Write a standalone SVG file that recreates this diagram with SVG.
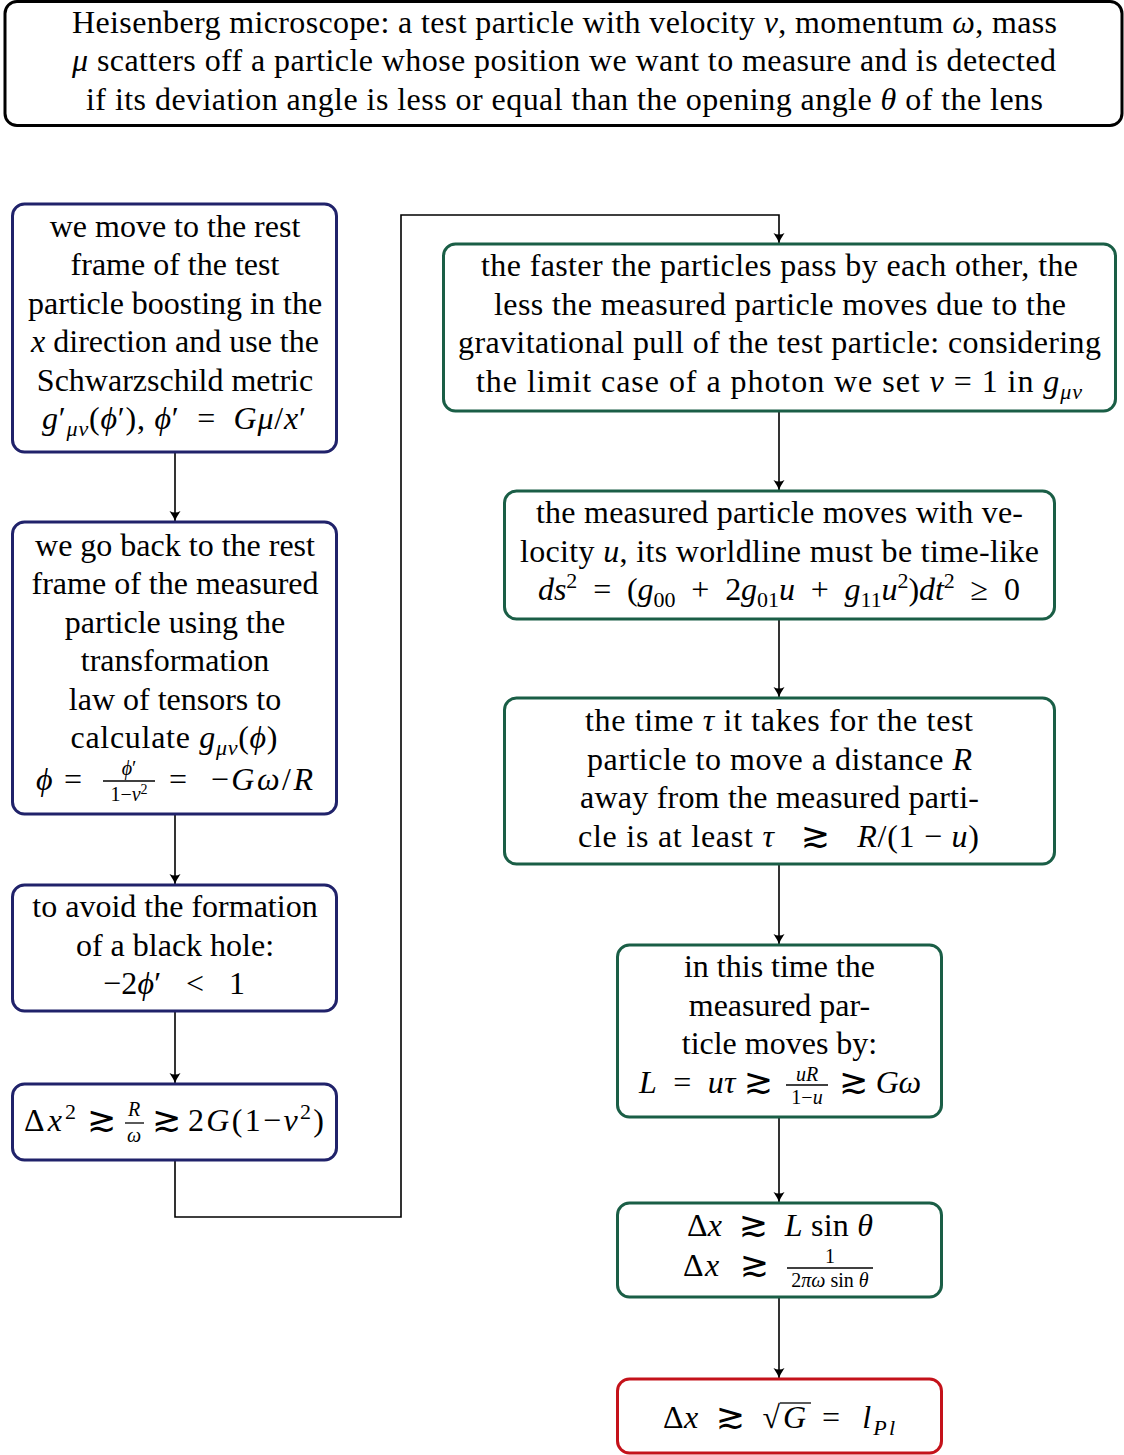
<svg xmlns="http://www.w3.org/2000/svg" width="1124" height="1455" viewBox="0 0 1124 1455">
<defs>
<style>
.t{font-family:"Liberation Serif","Times New Roman",serif;font-size:32px;fill:#000}
.c{text-anchor:middle}
.e{text-anchor:end}
.i{font-style:italic}
.s{font-size:22px}
.f{font-size:20px}
.sym{font-family:"DejaVu Serif","DejaVu Sans",serif;font-style:normal;font-size:35px}
.box{fill:#fff;stroke-width:3}
.navy{stroke:#20226a}
.green{stroke:#1a5e46}
.red{stroke:#c4121a}
.blk{stroke:#000}
.conn{fill:none;stroke:#000;stroke-width:1.6}
.bar{stroke:#000;stroke-width:1.3}
</style>
<marker id="arr" markerUnits="userSpaceOnUse" markerWidth="14" markerHeight="14" viewBox="-12 -7 14 14" refX="0" refY="0" orient="auto">
<path d="M-10,-5.5 Q-4,-1.5 0,0 Q-4,1.5 -10,5.5 Q-7,0 -10,-5.5 Z" fill="#000"/>
</marker>
</defs>

<g id="connectors">
<path class="conn" d="M175,452 V521" marker-end="url(#arr)"/>
<path class="conn" d="M175,814 V884" marker-end="url(#arr)"/>
<path class="conn" d="M175,1011 V1083" marker-end="url(#arr)"/>
<path class="conn" d="M175,1160 V1217 H401 V215 H779 V243" marker-end="url(#arr)"/>
<path class="conn" d="M779,411 V490" marker-end="url(#arr)"/>
<path class="conn" d="M779,619 V697" marker-end="url(#arr)"/>
<path class="conn" d="M779,864 V944" marker-end="url(#arr)"/>
<path class="conn" d="M779,1117 V1202" marker-end="url(#arr)"/>
<path class="conn" d="M779,1297 V1378" marker-end="url(#arr)"/>
</g>

<g id="title">
<rect class="box blk" x="5" y="1.5" width="1117" height="124" rx="12"/>
<text class="t c" x="564.5" y="33" textLength="985" lengthAdjust="spacing">Heisenberg microscope:  a test particle with velocity <tspan class="i">v</tspan>, momentum <tspan class="i">ω</tspan>, mass</text>
<text class="t c" x="564" y="71" textLength="984" lengthAdjust="spacing"><tspan class="i">μ</tspan> scatters off a particle whose position we want to measure and is detected</text>
<text class="t c" x="564.5" y="110" textLength="957" lengthAdjust="spacing">if its deviation angle is less or equal than the opening angle <tspan class="i">θ</tspan> of the lens</text>
</g>

<g id="node-l1">
<rect class="box navy" x="12.5" y="204" width="324" height="248" rx="12"/>
<text class="t c" x="175" y="237">we move to the rest</text>
<text class="t c" x="175" y="275">frame of the test</text>
<text class="t c" x="175" y="314">particle boosting in the</text>
<text class="t c" x="175" y="352"><tspan class="i">x</tspan> direction and use the</text>
<text class="t c" x="175" y="391">Schwarzschild metric</text>
<text class="t c" x="174" y="429" textLength="264" lengthAdjust="spacing" xml:space="preserve"><tspan class="i">g</tspan>′<tspan class="i s" dy="7">μν</tspan><tspan dy="-7">(</tspan><tspan class="i">ϕ</tspan>′), <tspan class="i">ϕ</tspan>′  =  <tspan class="i">Gμ</tspan>/<tspan class="i">x</tspan>′</text>
</g>

<g id="node-l2">
<rect class="box navy" x="12.5" y="522" width="324" height="292" rx="12"/>
<text class="t c" x="175" y="556">we go back to the rest</text>
<text class="t c" x="175" y="594">frame of the measured</text>
<text class="t c" x="175" y="633">particle using the</text>
<text class="t c" x="175" y="671">transformation</text>
<text class="t c" x="175" y="710">law of tensors to</text>
<text class="t c" x="174" y="748" textLength="207" lengthAdjust="spacing">calculate <tspan class="i">g</tspan><tspan class="i s" dy="7">μν</tspan><tspan dy="-7">(</tspan><tspan class="i">ϕ</tspan>)</text>
<text class="t" x="36" y="790"><tspan class="i">ϕ</tspan></text>
<text class="t" x="64" y="790">=</text>
<text class="t c f" x="129" y="775"><tspan class="i">ϕ</tspan>′</text>
<line class="bar" x1="103" y1="781" x2="155" y2="781"/>
<text class="t c f" x="129" y="801">1−<tspan class="i">v</tspan><tspan font-size="14" dy="-7">2</tspan></text>
<text class="t" x="169" y="790" textLength="144" lengthAdjust="spacing" xml:space="preserve">=  −<tspan class="i">Gω</tspan>/<tspan class="i">R</tspan></text>
</g>

<g id="node-l3">
<rect class="box navy" x="12.5" y="885" width="324" height="126" rx="12"/>
<text class="t c" x="175" y="917">to avoid the formation</text>
<text class="t c" x="175" y="956">of a black hole:</text>
<text class="t c" x="174" y="994" textLength="142" lengthAdjust="spacing" xml:space="preserve">−2<tspan class="i">ϕ</tspan>′   &lt;   1</text>
</g>

<g id="node-l4">
<rect class="box navy" x="12.5" y="1084" width="324" height="76" rx="12"/>
<text class="t" x="24" y="1131" textLength="52" lengthAdjust="spacing">Δ<tspan class="i">x</tspan><tspan class="s" dy="-12">2</tspan></text>
<text class="t" x="87" y="1131"><tspan class="sym">≳</tspan></text>
<text class="t c f" x="134" y="1116"><tspan class="i">R</tspan></text>
<line class="bar" x1="125" y1="1123" x2="144" y2="1123"/>
<text class="t c f" x="134" y="1142"><tspan class="i">ω</tspan></text>
<text class="t" x="152" y="1131"><tspan class="sym">≳</tspan></text>
<text class="t" x="188" y="1131" textLength="136" lengthAdjust="spacing">2<tspan class="i">G</tspan>(1−<tspan class="i">v</tspan><tspan class="s" dy="-12">2</tspan><tspan dy="12">)</tspan></text>
</g>

<g id="node-r1">
<rect class="box green" x="443.5" y="244" width="672" height="167" rx="12"/>
<text class="t c" x="779.5" y="276" textLength="597" lengthAdjust="spacing">the faster the particles pass by each other, the</text>
<text class="t c" x="780" y="315" textLength="572" lengthAdjust="spacing">less the measured particle moves due to the</text>
<text class="t c" x="779.5" y="353" textLength="643" lengthAdjust="spacing">gravitational pull of the test particle:  considering</text>
<text class="t c" x="779" y="392" textLength="606" lengthAdjust="spacing">the limit case of a photon we set <tspan class="i">v</tspan> = 1 in <tspan class="i">g</tspan><tspan class="i s" dy="7">μν</tspan></text>
</g>

<g id="node-r2">
<rect class="box green" x="504.5" y="491" width="550" height="128" rx="12"/>
<text class="t c" x="779.5" y="523" textLength="487" lengthAdjust="spacing">the measured particle moves with ve-</text>
<text class="t c" x="779.5" y="562" textLength="519" lengthAdjust="spacing">locity <tspan class="i">u</tspan>, its worldline must be time-like</text>
<text class="t c" x="779" y="600" textLength="482" lengthAdjust="spacing" xml:space="preserve"><tspan class="i">ds</tspan><tspan class="s" dy="-12">2</tspan><tspan dy="12">  =  (</tspan><tspan class="i">g</tspan><tspan class="s" dy="7">00</tspan><tspan dy="-7">  +  2</tspan><tspan class="i">g</tspan><tspan class="s" dy="7">01</tspan><tspan class="i" dy="-7">u</tspan>  +  <tspan class="i">g</tspan><tspan class="s" dy="7">11</tspan><tspan class="i" dy="-7">u</tspan><tspan class="s" dy="-12">2</tspan><tspan dy="12">)</tspan><tspan class="i">dt</tspan><tspan class="s" dy="-12">2</tspan><tspan dy="12">  ≥  0</tspan></text>
</g>

<g id="node-r3">
<rect class="box green" x="504.5" y="698" width="550" height="166" rx="12"/>
<text class="t c" x="779" y="731" textLength="388" lengthAdjust="spacing">the time <tspan class="i">τ</tspan> it takes for the test</text>
<text class="t c" x="779.5" y="770" textLength="385" lengthAdjust="spacing">particle to move a distance <tspan class="i">R</tspan></text>
<text class="t c" x="779.5" y="808" textLength="399" lengthAdjust="spacing">away from the measured parti-</text>
<text class="t c" x="778.5" y="847" textLength="401" lengthAdjust="spacing" xml:space="preserve">cle is at least <tspan class="i">τ</tspan>   <tspan class="sym">≳</tspan>   <tspan class="i">R</tspan>/(1 − <tspan class="i">u</tspan>)</text>
</g>

<g id="node-r4">
<rect class="box green" x="617.5" y="945" width="324" height="172" rx="12"/>
<text class="t c" x="779.5" y="977">in this time the</text>
<text class="t c" x="779.5" y="1016">measured par-</text>
<text class="t c" x="779.5" y="1054">ticle moves by:</text>
<text class="t" x="639" y="1093" textLength="134" lengthAdjust="spacing" xml:space="preserve"><tspan class="i">L</tspan>  =  <tspan class="i">uτ</tspan> <tspan class="sym">≳</tspan></text>
<text class="t c f" x="807" y="1081"><tspan class="i">uR</tspan></text>
<line class="bar" x1="786" y1="1085" x2="828" y2="1085"/>
<text class="t c f" x="807" y="1104">1−<tspan class="i">u</tspan></text>
<text class="t" x="839" y="1093" textLength="82" lengthAdjust="spacing"><tspan class="sym">≳</tspan> <tspan class="i">Gω</tspan></text>
</g>

<g id="node-r5">
<rect class="box green" x="617.5" y="1203" width="324" height="94" rx="12"/>
<text class="t" x="687" y="1236" textLength="186" lengthAdjust="spacing" xml:space="preserve">Δ<tspan class="i">x</tspan>  <tspan class="sym">≳</tspan>  <tspan class="i">L</tspan> sin <tspan class="i">θ</tspan></text>
<text class="t" x="683" y="1276" textLength="86" lengthAdjust="spacing" xml:space="preserve">Δ<tspan class="i">x</tspan>  <tspan class="sym">≳</tspan></text>
<text class="t c f" x="830" y="1263">1</text>
<line class="bar" x1="787" y1="1268" x2="873" y2="1268"/>
<text class="t c f" x="830" y="1287">2<tspan class="i">πω</tspan> sin <tspan class="i">θ</tspan></text>
</g>

<g id="node-r6">
<rect class="box red" x="617.5" y="1379" width="324" height="74" rx="12"/>
<text class="t" x="663" y="1428" textLength="117" lengthAdjust="spacing" xml:space="preserve">Δ<tspan class="i">x</tspan>  <tspan class="sym">≳</tspan>  √</text>
<line class="bar" x1="780" y1="1403" x2="811" y2="1403"/>
<text class="t i" x="783" y="1428">G</text>
<text class="t" x="822" y="1428" textLength="73" lengthAdjust="spacing" xml:space="preserve">=  <tspan class="i">l</tspan><tspan class="i s" dy="7">Pl</tspan></text>
</g>
</svg>
